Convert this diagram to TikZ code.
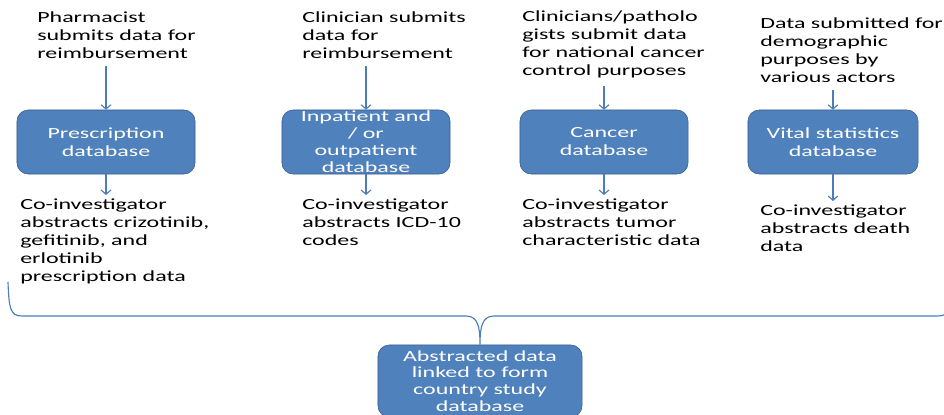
\documentclass[tikz,border=0pt]{standalone}
\usepackage{fontspec}
\setmainfont{Carlito}[FakeStretch=1.55]
\usetikzlibrary{arrows.meta, positioning, calc}
\definecolor{BoxBlue}{HTML}{4F81BD}
\definecolor{BoxEdge}{HTML}{385D8A}
\definecolor{LineBlue}{HTML}{4A7EBB}

\tikzset{
    dbbox/.style={draw=BoxEdge, fill=BoxBlue, rounded corners=0.28cm, text=white,
        align=center, inner sep=0pt, minimum height=1.6cm,
        font=\fontsize{11}{12.8}\selectfont},
    note/.style={anchor=north west, align=left, inner sep=0pt,
        font=\fontsize{11}{12.8}\selectfont},
    flow/.style={->, LineBlue, thick},
    brace/.style={LineBlue, thick}
}

\begin{document}
\begin{tikzpicture}[>={Straight Barb[length=3pt, width=7pt]}, x=0.025cm, y=-0.025cm]
        \useasboundingbox (0,0) rectangle (944,414);
        \clip (0,0) rectangle (944,414);

        % Sources
        \node[note] (src1) at (37,11) {Pharmacist\\submits data for\\reimbursement};
        \node[note] (src2) at (302,11) {Clinician submits\\data for\\reimbursement};
        \node[note] (src3) at (522,10) {Clinicians/patholo\\gists submit data\\for national cancer\\control purposes};
        \node[note] (src4) at (760,17) {Data submitted for\\demographic\\purposes by\\various actors};

        % Databases
        \node[dbbox, minimum width=4.45cm] (db1) at (106,142) {Prescription\\database};
        \node[dbbox, minimum width=4.2cm, font=\fontsize{11}{12.05}\selectfont] (db2) at (366,142) {Inpatient and\\/ or\\outpatient\\database};
        \node[dbbox, minimum width=4.2cm] (db3) at (604,142) {Cancer\\database};
        \node[dbbox, minimum width=4.25cm] (db4) at (833,142) {Vital statistics\\database};

        % Abstraction
        \node[note] (abs1) at (20,199) {Co-investigator\\abstracts crizotinib,\\gefitinib, and\\erlotinib\\prescription data};
        \node[note] (abs2) at (302,199) {Co-investigator\\abstracts ICD-10\\codes};
        \node[note] (abs3) at (522,199) {Co-investigator\\abstracts tumor\\characteristic data};
        \node[note] (abs4) at (760,205) {Co-investigator\\abstracts death\\data};

        \foreach \i in {1,...,4} {
            \draw[flow] ([yshift=-0.2cm]src\i.south -| db\i.north) -- (db\i.north);
            \draw[flow] (db\i.south) -- ([yshift=0.1cm]abs\i.north -| db\i.south);
        }

        % Linked database
        \node[dbbox, minimum width=5.1cm, minimum height=1.8cm, font=\fontsize{11}{11.9}\selectfont] (study) at (480,381) {Abstracted data\\linked to form\\country study\\database};

        \coordinate (bl) at (8,282);
        \coordinate (br) at (952,282);
        \draw[brace] (bl) .. controls (9,308) and (10,316) .. (22,316) -- (466,316)
            .. controls (478,316) and (480,327) .. (study.north)
            .. controls (480,327) and (482,316) .. (494,316) -- (938,316)
            .. controls (950,316) and (951,308) .. (br);
    \end{tikzpicture}
\end{document}
